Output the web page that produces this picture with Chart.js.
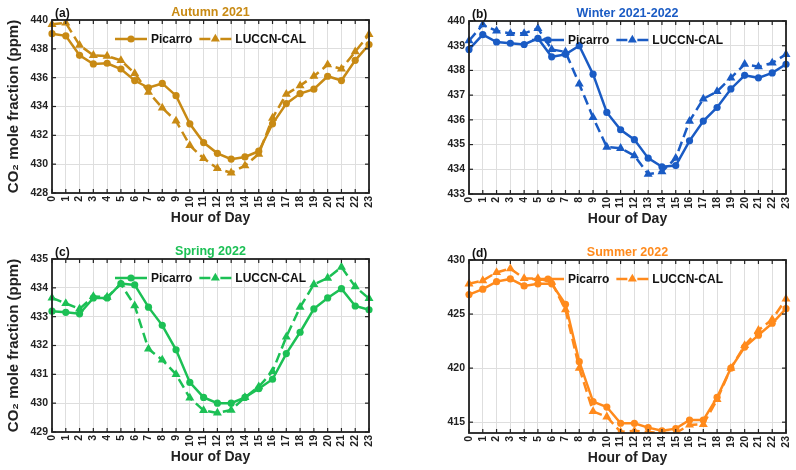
<!DOCTYPE html>
<html>
<head>
<meta charset="utf-8">
<script src="https://cdn.jsdelivr.net/npm/chart.js@4.4.1/dist/chart.umd.min.js"></script>
<style>
  html, body { margin:0; padding:0; background:#fff; }
  #wrap { position:relative; width:796px; height:470px; overflow:hidden; }
  .panel { position:absolute; width:380px; height:235px; }
</style>
</head>
<body>
<div id="wrap">
  <div class="panel" style="left:0;top:0"><canvas id="chartA" width="380" height="235"></canvas></div>
  <div class="panel" style="left:417px;top:1px"><canvas id="chartB" width="380" height="235"></canvas></div>
  <div class="panel" style="left:0;top:239px"><canvas id="chartC" width="380" height="235"></canvas></div>
  <div class="panel" style="left:417px;top:240px"><canvas id="chartD" width="380" height="235"></canvas></div>
</div>
<script>
// hour-of-day categories
const HOURS = ['0','1','2','3','4','5','6','7','8','9','10','11','12','13','14','15','16','17','18','19','20','21','22','23'];
const SERIES_NAMES = ['Picarro', 'LUCCN-CAL'];

// (a) Autumn 2021
const AUTUMN_PICARRO = [439.05,438.9,437.55,436.95,437.0,436.6,435.8,435.3,435.6,434.75,432.8,431.5,430.75,430.35,430.5,430.9,432.8,434.2,434.9,435.2,436.1,435.8,437.2,438.3];
const AUTUMN_LUCCN   = [439.7,439.8,438.25,437.55,437.5,437.2,436.3,435.0,433.9,433.0,431.3,430.4,429.7,429.4,429.9,430.7,433.2,434.85,435.45,436.1,436.9,436.6,437.8,439.0];
const AUTUMN_TICKS   = [428,430,432,434,436,438,440];

// (b) Winter 2021-2022
const WINTER_PICARRO = [438.85,439.45,439.15,439.1,439.05,439.3,438.55,438.65,439.0,437.85,436.3,435.6,435.2,434.45,434.1,434.15,435.15,435.95,436.5,437.25,437.8,437.7,437.9,438.25];
const WINTER_LUCCN   = [439.2,439.85,439.6,439.5,439.5,439.7,438.85,438.75,437.45,436.1,434.9,434.85,434.55,433.8,433.9,434.45,435.95,436.85,437.15,437.7,438.25,438.15,438.3,438.65];
const WINTER_TICKS   = [433,434,435,436,437,438,439,440];

// (c) Spring 2022
const SPRING_PICARRO = [433.19,433.15,433.1,433.65,433.65,434.15,434.1,433.33,432.7,431.85,430.72,430.2,430.0,430.0,430.2,430.5,430.83,431.72,432.46,433.27,433.65,433.97,433.37,433.24];
const SPRING_LUCCN   = [433.65,433.46,433.27,433.7,433.68,434.13,433.38,431.88,431.5,431.0,430.18,429.75,429.66,429.76,430.2,430.57,431.1,432.3,433.33,434.12,434.34,434.72,434.04,433.63];
const SPRING_TICKS   = [429,430,431,432,433,434,435];

// (d) Summer 2022
const SUMMER_PICARRO = [426.8,427.3,428.0,428.25,427.6,427.8,427.8,425.9,420.6,416.9,416.4,414.9,414.9,414.5,414.2,414.4,415.2,415.2,417.3,420.0,421.95,423.05,424.15,425.5];
const SUMMER_LUCCN   = [427.8,428.1,428.85,429.2,428.3,428.3,427.95,425.4,420.0,416.0,415.5,414.1,414.2,414.1,414.0,414.0,414.75,414.8,417.1,420.0,422.1,423.5,424.5,426.4];
const SUMMER_TICKS   = [415,420,425,430];

const FONT = "'Liberation Sans', Arial, Helvetica, sans-serif";

// frame, inward ticks, title, panel letter and legend drawn inside the axes
const panelDecor = {
  id: 'panelDecor',
  afterDatasetsDraw(chart, args, o) {
    const { ctx, chartArea: a, scales: { x, y } } = chart;
    ctx.save();
    ctx.strokeStyle = '#222';
    ctx.lineWidth = 1.2;
    const seg = (x1, y1, x2, y2) => { ctx.beginPath(); ctx.moveTo(x1, y1); ctx.lineTo(x2, y2); ctx.stroke(); };
    x.ticks.forEach((t, i) => {
      const px = x.getPixelForTick(i);
      seg(px, a.bottom, px, a.bottom - 4);
      seg(px, a.top, px, a.top + 4);
    });
    y.ticks.forEach((t, i) => {
      const py = y.getPixelForTick(i);
      seg(a.left, py, a.left + 4, py);
      seg(a.right, py, a.right - 4, py);
    });
    ctx.lineWidth = 1.8;
    ctx.strokeRect(a.left, a.top, a.right - a.left, a.bottom - a.top);

    // title + panel label
    ctx.textBaseline = 'middle';
    ctx.font = 'bold 12.5px ' + FONT;
    ctx.fillStyle = o.color;
    ctx.textAlign = 'center';
    ctx.fillText(o.title, (a.left + a.right) / 2, a.top - 7);
    ctx.font = 'bold 12px ' + FONT;
    ctx.fillStyle = '#111';
    ctx.textAlign = 'left';
    ctx.fillText(o.label, a.left + 3, a.top - 6);

    // legend
    ctx.font = 'bold 12px ' + FONT;
    const ds = chart.data.datasets;
    const lineLen = 32, gapText = 4, gapItem = 7;
    const widths = ds.map(d => ctx.measureText(d.label).width);
    const total = ds.length * (lineLen + gapText) + widths.reduce((s, w) => s + w, 0) + gapItem * (ds.length - 1);
    let lx = (a.left + a.right) / 2 - total / 2;
    const ly = a.top + 19;
    ds.forEach((d, i) => {
      ctx.strokeStyle = d.borderColor;
      ctx.fillStyle = d.borderColor;
      ctx.lineWidth = d.borderWidth;
      if (d.borderDash) {
        seg(lx, ly, lx + 11, ly);
        seg(lx + lineLen - 11, ly, lx + lineLen, ly);
      } else {
        seg(lx, ly, lx + lineLen, ly);
      }
      const cx = lx + lineLen / 2, r = d.pointRadius;
      ctx.beginPath();
      if (d.pointStyle === 'triangle') {
        ctx.moveTo(cx, ly - r);
        ctx.lineTo(cx + r * 0.866, ly + r * 0.5);
        ctx.lineTo(cx - r * 0.866, ly + r * 0.5);
        ctx.closePath();
      } else {
        ctx.arc(cx, ly, r, 0, Math.PI * 2);
      }
      ctx.fill();
      lx += lineLen + gapText;
      ctx.fillStyle = '#111';
      ctx.fillText(d.label, lx, ly + 1);
      lx += widths[i] + gapItem;
    });
    ctx.restore();
  }
};

function makePanel(id, cfg) {
  const tickFont = { family: FONT, size: 10.5, weight: 'bold' };
  new Chart(document.getElementById(id), {
    type: 'line',
    data: {
      labels: HOURS,
      datasets: [
        { label: SERIES_NAMES[0], data: cfg.picarro, borderColor: cfg.color, backgroundColor: cfg.color,
          borderWidth: 2.5, pointStyle: 'circle', pointRadius: 3.6, pointBorderWidth: 0, tension: 0 },
        { label: SERIES_NAMES[1], data: cfg.luccn, borderColor: cfg.color, backgroundColor: cfg.color,
          borderWidth: 2.5, borderDash: [10, 5], pointStyle: 'triangle', pointRadius: 5.2, pointBorderWidth: 0, tension: 0 }
      ]
    },
    options: {
      responsive: false,
      animation: false,
      devicePixelRatio: 1,
      layout: { padding: { top: 20, right: 11, left: 0, bottom: 0 } },
      plugins: {
        legend: { display: false },
        tooltip: { enabled: false },
        panelDecor: { title: cfg.title, label: cfg.label, color: cfg.color }
      },
      scales: {
        x: {
          offset: false,
          grid: { color: '#dedede', lineWidth: 1, drawTicks: false },
          border: { display: false },
          ticks: { autoSkip: false, minRotation: 90, maxRotation: 90, padding: 3, color: '#222', font: tickFont },
          title: { display: true, text: 'Hour of Day', color: '#222', font: { family: FONT, size: 14, weight: 'bold' }, padding: { top: 0, bottom: 8 } },
          afterFit: s => { s.height = 42; s.paddingLeft = 0; s.paddingRight = 0; }
        },
        y: {
          min: cfg.yMin, max: cfg.yMax,
          afterBuildTicks: s => { s.ticks = cfg.ticks.map(v => ({ value: v })); },
          grid: { color: '#dedede', lineWidth: 1, drawTicks: false },
          border: { display: false },
          ticks: { padding: 4, color: '#222', font: tickFont },
          title: { display: cfg.yTitle, text: 'CO\u2082 mole fraction (ppm)', color: '#222', font: { family: FONT, size: 15, weight: 'bold' }, padding: { top: 5, bottom: 0 } },
          afterFit: s => { s.width = 52; s.paddingTop = 0; s.paddingBottom = 0; }
        }
      }
    },
    plugins: [panelDecor]
  });
}

makePanel('chartA', { title: 'Autumn 2021', label: '(a)', color: '#C88A14', yMin: 428, yMax: 440, ticks: AUTUMN_TICKS, picarro: AUTUMN_PICARRO, luccn: AUTUMN_LUCCN, yTitle: true });
makePanel('chartB', { title: 'Winter 2021-2022', label: '(b)', color: '#1A5BC4', yMin: 433, yMax: 440, ticks: WINTER_TICKS, picarro: WINTER_PICARRO, luccn: WINTER_LUCCN, yTitle: false });
makePanel('chartC', { title: 'Spring 2022', label: '(c)', color: '#1CC055', yMin: 429, yMax: 435, ticks: SPRING_TICKS, picarro: SPRING_PICARRO, luccn: SPRING_LUCCN, yTitle: true });
makePanel('chartD', { title: 'Summer 2022', label: '(d)', color: '#FF8A1C', yMin: 414, yMax: 430, ticks: SUMMER_TICKS, picarro: SUMMER_PICARRO, luccn: SUMMER_LUCCN, yTitle: false });
</script>
</body>
</html>
